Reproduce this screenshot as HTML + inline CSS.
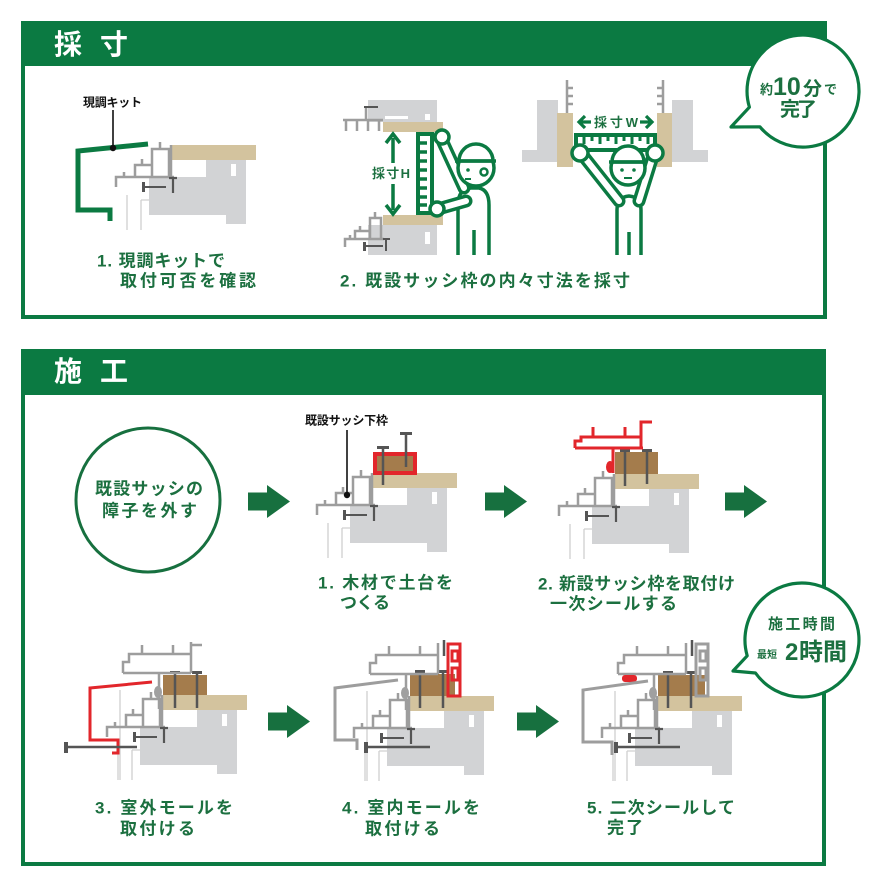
<!DOCTYPE html>
<html><head><meta charset="utf-8"><style>html,body{margin:0;padding:0;background:#fff;}svg{display:block}</style></head>
<body>
<svg width="876" height="876" viewBox="0 0 876 876" font-family="'Liberation Sans','Noto Sans CJK JP',sans-serif" font-weight="bold">
<defs>
<g id="base">
 <rect x="34" y="15" width="40" height="17" fill="#d2d3d5"/>
 <rect x="59" y="19" width="5" height="12" fill="#fff"/>
 <rect x="-23" y="32" width="97" height="38" fill="#d2d3d5"/>
 <rect x="54" y="70" width="20" height="9" fill="#d2d3d5"/>
 <path d="M-45,50 V85 M-31,55 V85 M-31,55 H-23" stroke="#d0d0d0" stroke-width="1.3" fill="none"/>
 <rect x="0" y="0" width="84" height="15" fill="#d3c39e"/>
 <g stroke="#9d9d9d" stroke-width="2.5" fill="none">
  <path d="M-20,31 V4 H-3 V31"/>
  <path d="M-12,4 V-3"/>
  <path d="M-1,0 V33"/>
  <path d="M-37,31 V20 H-20"/>
  <path d="M-30,20 V14"/>
  <path d="M-56,42 V32 H2"/>
  <path d="M-48,32 V27"/>
 </g>
 <path d="M-27,42 H-6" stroke="#555" stroke-width="2"/>
 <rect x="-30" y="37" width="3" height="10" fill="#555"/>
 <path d="M1,33 V48 M-3,33 H5" stroke="#555" stroke-width="2.2" fill="none"/>
</g>
<g id="frame" stroke="#9d9d9d" stroke-width="2.5" fill="none">
 <path d="M-40,-22 V-33 H-34 V-41 H28"/>
 <path d="M-40,-22 H28"/>
 <path d="M-21,-41 V-50 M10,-41 V-50"/>
 <path d="M28,-53 V-22"/>
 <path d="M-4,-22 V14"/>
</g>
</defs>

<!-- ============ TOP PANEL ============ -->
<rect x="23" y="23" width="802" height="294" fill="none" stroke="#0b7a42" stroke-width="4"/>
<rect x="21" y="21" width="806" height="45" fill="#0b7a42"/>
<text x="54" y="54" font-size="28" fill="#fff">採</text>
<text x="100" y="54" font-size="28" fill="#fff">寸</text>

<!-- Diagram T1 -->
<use href="#base" transform="translate(172,145)"/>
<path d="M148,144 L78,151 L78,210 L110,210 L110,221" stroke="#0b7a42" stroke-width="5" fill="none"/>
<path d="M113,110 V148" stroke="#111" stroke-width="1.6"/>
<circle cx="113" cy="148" r="3.2" fill="#111"/>
<text x="83" y="106.5" font-size="12" fill="#111" textLength="59">現調キット</text>
<text x="97" y="266.5" font-size="17" fill="#1c7040" textLength="128">1. 現調キットで</text>
<text x="120" y="286.5" font-size="17" fill="#1c7040" textLength="136">取付可否を確認</text>

<!-- Diagram T2 -->
<rect x="368" y="100" width="69" height="22" fill="#d2d3d5"/>
<rect x="368" y="225" width="69" height="30" fill="#d2d3d5"/>
<rect x="385" y="116" width="23" height="3" fill="#fff"/>
<rect x="425" y="114" width="5" height="6" fill="#fff"/>
<rect x="425" y="232" width="5" height="12" fill="#fff"/>
<rect x="383" y="122" width="60" height="10" fill="#d3c39e"/>
<rect x="383" y="215" width="60" height="10" fill="#d3c39e"/>
<path d="M343,120 H383 M346,120 V131 M357,120 V131 M368,120 V131 M379,120 V131 M366,120 V107" stroke="#9d9d9d" stroke-width="2.5" fill="none"/>
<path d="M364,107 H378" stroke="#555" stroke-width="2"/>
<path d="M370,240 V218 H381 V240 M375,218 V212 M355,240 V231 H370 M360,231 V226 M345,247 V239 H384 M350,239 V235" stroke="#9d9d9d" stroke-width="2.5" fill="none"/>
<path d="M366,246 H383 M386,239 V251 M383,239 H390" stroke="#555" stroke-width="2" fill="none"/>
<rect x="363" y="242" width="3" height="9" fill="#555"/>
<path d="M393,138 V163 M393,184 V210" stroke="#0b7a42" stroke-width="3.5"/>
<path d="M386,143 L393,134 L400,143 M386,205 L393,214 L400,205" stroke="#0b7a42" stroke-width="3.5" fill="none"/>
<text x="372" y="178" font-size="13" fill="#1c7040" textLength="38">採寸H</text>
<!-- ruler -->
<rect x="418" y="134" width="14" height="79" fill="#fff" stroke="#0b7a42" stroke-width="4"/>
<path d="M419,143 H427 M419,152 H427 M419,161 H427 M419,170 H427 M419,179 H427 M419,188 H427 M419,197 H427 M419,205 H427" stroke="#0b7a42" stroke-width="3.5"/>
<!-- person 1 -->
<path d="M458,255 V205 Q458,189 471,188 H479 Q489,190 489,205 V255" fill="#fff" stroke="#0b7a42" stroke-width="3.5"/>
<path d="M474,230 V255" stroke="#0b7a42" stroke-width="3.5"/>
<path d="M441,138 L464,188" stroke="#0b7a42" stroke-width="13" stroke-linecap="round"/>
<path d="M441,138 L464,188" stroke="#fff" stroke-width="6" stroke-linecap="round"/>
<circle cx="442" cy="137" r="7" fill="#fff" stroke="#0b7a42" stroke-width="3.5"/>
<path d="M466,201 L438,209" stroke="#0b7a42" stroke-width="13" stroke-linecap="round"/>
<path d="M466,201 L438,209" stroke="#fff" stroke-width="6" stroke-linecap="round"/>
<circle cx="437" cy="209" r="7" fill="#fff" stroke="#0b7a42" stroke-width="3.5"/>
<circle cx="476" cy="168" r="18" fill="#fff" stroke="#0b7a42" stroke-width="3.5"/>
<path d="M459,161 A17,17 0 0 1 493,161 Z" fill="#fff" stroke="#0b7a42" stroke-width="3.5"/>
<path d="M455,161 H496" stroke="#0b7a42" stroke-width="3.5"/>
<circle cx="468" cy="170" r="1.8" fill="#0b7a42"/>
<circle cx="484" cy="172" r="3.5" fill="none" stroke="#0b7a42" stroke-width="2.5"/>
<path d="M465,179 H471" stroke="#0b7a42" stroke-width="2"/>

<!-- Diagram T3 -->
<rect x="537" y="100" width="21" height="50" fill="#d2d3d5"/>
<rect x="522" y="150" width="36" height="12" fill="#d2d3d5"/>
<rect x="672" y="100" width="21" height="50" fill="#d2d3d5"/>
<rect x="672" y="150" width="36" height="12" fill="#d2d3d5"/>
<rect x="557" y="113" width="16" height="54" fill="#d3c39e"/>
<rect x="657" y="113" width="15" height="54" fill="#d3c39e"/>
<path d="M567,80 V113 M567,88 H573 M567,96 H573 M567,104 H573 M663,80 V113 M663,88 H657 M663,96 H657 M663,104 H657" stroke="#9d9d9d" stroke-width="2.5" fill="none"/>
<path d="M580,122 H591 M585,116 L579,122 L585,128 M640,122 H651 M646,116 L652,122 L646,128" stroke="#0b7a42" stroke-width="3.2" fill="none"/>
<text x="594" y="127" font-size="13" fill="#1c7040" textLength="44">採寸W</text>
<!-- person 2 -->
<path d="M617,255 V210 Q617,197 629,196 Q641,197 641,210 V255" fill="#fff" stroke="#0b7a42" stroke-width="3.5"/>
<path d="M629,232 V255" stroke="#0b7a42" stroke-width="3.5"/>
<path d="M581,153 L619,201 M654,153 L639,201" stroke="#0b7a42" stroke-width="13" stroke-linecap="round"/>
<path d="M581,153 L619,201 M654,153 L639,201" stroke="#fff" stroke-width="6" stroke-linecap="round"/>
<rect x="576" y="135" width="79" height="15" fill="#fff" stroke="#0b7a42" stroke-width="4"/>
<path d="M584,137 V144 M592,137 V141 M600,137 V144 M608,137 V141 M616,137 V144 M624,137 V141 M632,137 V144 M640,137 V141 M648,137 V144" stroke="#0b7a42" stroke-width="3"/>
<circle cx="580" cy="153" r="8" fill="#fff" stroke="#0b7a42" stroke-width="3.5"/>
<circle cx="655" cy="153" r="8" fill="#fff" stroke="#0b7a42" stroke-width="3.5"/>
<circle cx="628" cy="168" r="17" fill="#fff" stroke="#0b7a42" stroke-width="3.5"/>
<path d="M612,162 A16,16 0 0 1 644,162 Z" fill="#fff" stroke="#0b7a42" stroke-width="3.5"/>
<path d="M609,162 H647" stroke="#0b7a42" stroke-width="3.5"/>
<circle cx="622" cy="170" r="1.8" fill="#0b7a42"/>
<circle cx="634" cy="170" r="1.8" fill="#0b7a42"/>
<path d="M624,178 H632" stroke="#0b7a42" stroke-width="2"/>

<text x="340" y="286.5" font-size="17" fill="#1c7040" textLength="290">2. 既設サッシ枠の内々寸法を採寸</text>

<!-- Bubble 1 -->
<path d="M749.4,107.2 A56,56 0 1 1 759.9,126.8 L731,127 Z" fill="#fff" stroke="#0b7a42" stroke-width="3.2" stroke-linejoin="round"/>
<text x="760" y="94" font-size="13" fill="#1c7040">約</text>
<text x="773" y="95" font-size="25" fill="#1c7040">10</text>
<text x="803" y="95" font-size="19" fill="#1c7040">分</text>
<text x="824" y="94" font-size="13" fill="#1c7040">で</text>
<text x="780" y="116" font-size="20" fill="#1c7040" textLength="37">完了</text>

<!-- ============ BOTTOM PANEL ============ -->
<rect x="23" y="351" width="801" height="513" fill="none" stroke="#0b7a42" stroke-width="4"/>
<rect x="21" y="349" width="805" height="46" fill="#0b7a42"/>
<text x="54" y="381" font-size="28" fill="#fff">施</text>
<text x="100" y="381" font-size="28" fill="#fff">工</text>

<circle cx="148" cy="500" r="72" fill="none" stroke="#17703f" stroke-width="3"/>
<text x="95" y="494.5" font-size="17" fill="#1c7040" textLength="108">既設サッシの</text>
<text x="102" y="516.5" font-size="17" fill="#1c7040" textLength="95">障子を外す</text>

<!-- arrows -->
<g fill="#17703f">
 <rect x="248" y="492.5" width="21" height="18"/><path d="M267,485 L290,501.5 L267,518 Z"/>
 <rect x="485" y="492.5" width="21" height="18"/><path d="M504,485 L527,501.5 L504,518 Z"/>
 <rect x="725" y="492.5" width="21" height="18"/><path d="M744,485 L767,501.5 L744,518 Z"/>
 <rect x="268" y="712.5" width="21" height="18"/><path d="M287,705 L310,721.5 L287,738 Z"/>
 <rect x="517" y="712.5" width="21" height="18"/><path d="M536,705 L559,721.5 L536,738 Z"/>
</g>

<!-- D1 -->
<g transform="translate(373,473)">
 <use href="#base"/>
 <rect x="2" y="-19" width="40" height="19" fill="#a47c4c" stroke="#e2262b" stroke-width="4"/>
 <path d="M10,-25 V12 M33,-39 V-6" stroke="#555" stroke-width="2.5"/>
 <rect x="4" y="-27" width="12" height="3" fill="#555"/>
 <rect x="27" y="-41" width="12" height="3" fill="#555"/>
</g>
<path d="M347,430 V495" stroke="#111" stroke-width="1.6"/>
<circle cx="347" cy="495" r="3.2" fill="#111"/>
<text x="305" y="424.5" font-size="12" fill="#111" textLength="83">既設サッシ下枠</text>
<text x="318" y="588.5" font-size="17" fill="#1c7040" textLength="135">1. 木材で土台を</text>
<text x="340" y="608.5" font-size="17" fill="#1c7040" textLength="50">つくる</text>

<!-- D2 -->
<g transform="translate(615,474)">
 <use href="#base"/>
 <rect x="0" y="-22" width="43" height="22" fill="#a47c4c"/>
 <path d="M10,-23 V12 M32,-23 V10" stroke="#555" stroke-width="2.5"/>
 <rect x="5" y="-25" width="10" height="3" fill="#555"/>
 <rect x="27" y="-25" width="10" height="3" fill="#555"/>
 <g stroke="#e2262b" stroke-width="3" fill="none">
  <path d="M-40,-26 H28"/>
  <path d="M-40,-26 V-33 H-34 V-37 H26"/>
  <path d="M26,-26 V-52 H37"/>
  <path d="M-22,-47 V-37 M10,-47 V-37"/>
  <path d="M-2,-26 V-1"/>
 </g>
 <ellipse cx="-5" cy="-7" rx="4" ry="6" fill="#e2262b"/>
</g>
<text x="538" y="589.5" font-size="17" fill="#1c7040" textLength="197">2. 新設サッシ枠を取付け</text>
<text x="550" y="609.5" font-size="17" fill="#1c7040" textLength="127">一次シールする</text>

<!-- D3 -->
<g transform="translate(163,695)">
 <path d="M-43,-5 V85" stroke="#d0d0d0" stroke-width="1.3"/>
 <use href="#base"/>
 <rect x="0" y="-20" width="44" height="20" fill="#a47c4c"/>
 <path d="M12,-22 V13 M34,-22 V13" stroke="#555" stroke-width="2.5"/>
 <rect x="7" y="-24" width="10" height="3" fill="#555"/>
 <rect x="29" y="-24" width="10" height="3" fill="#555"/>
 <use href="#frame"/>
 <path d="M28,-50 H39" stroke="#9d9d9d" stroke-width="2.5"/>
 <ellipse cx="-5" cy="-3" rx="4" ry="6" fill="#a0a0a0"/>
 <path d="M-11,-13 L-73,-7 V45 H-45 V58 H-51" stroke="#e2262b" stroke-width="3" fill="none"/>
 <path d="M-96,52 H-26" stroke="#555" stroke-width="2.5"/>
 <rect x="-99" y="47" width="4" height="11" fill="#555"/>
</g>
<text x="95" y="813.5" font-size="17" fill="#1c7040" textLength="138">3. 室外モールを</text>
<text x="120" y="834.5" font-size="17" fill="#1c7040" textLength="75">取付ける</text>

<!-- D4 -->
<g transform="translate(410,696)">
 <path d="M-43,-5 V85" stroke="#d0d0d0" stroke-width="1.3"/>
 <use href="#base"/>
 <rect x="0" y="-22" width="45" height="22" fill="#a47c4c"/>
 <path d="M10,-24 V12 M33,-24 V12" stroke="#555" stroke-width="2.5"/>
 <rect x="5" y="-26" width="10" height="3" fill="#555"/>
 <rect x="28" y="-26" width="10" height="3" fill="#555"/>
 <use href="#frame"/>
 <ellipse cx="-5" cy="-3" rx="4" ry="6" fill="#a0a0a0"/>
 <g stroke="#e2262b" stroke-width="3" fill="none">
  <rect x="38" y="-52" width="12" height="52"/>
  <rect x="42" y="-45" width="6" height="10"/>
  <rect x="42" y="-28" width="6" height="12"/>
 </g>
 <path d="M34,-56 V-40" stroke="#555" stroke-width="2.5"/>
 <path d="M-12,-16 L-75,-8 V44 H-53 V54" stroke="#9d9d9d" stroke-width="3" fill="none"/>
 <path d="M-43,51 H20" stroke="#555" stroke-width="2.5"/>
 <rect x="-46" y="46" width="4" height="11" fill="#555"/>
</g>
<text x="342" y="813.5" font-size="17" fill="#1c7040" textLength="138">4. 室内モールを</text>
<text x="365" y="834.5" font-size="17" fill="#1c7040" textLength="75">取付ける</text>

<!-- D5 -->
<g transform="translate(658,696)">
 <path d="M-43,-5 V85" stroke="#d0d0d0" stroke-width="1.3"/>
 <use href="#base"/>
 <rect x="0" y="-21" width="47" height="21" fill="#a47c4c"/>
 <path d="M10,-23 V12 M33,-23 V12" stroke="#555" stroke-width="2.5"/>
 <rect x="5" y="-25" width="10" height="3" fill="#555"/>
 <rect x="28" y="-25" width="10" height="3" fill="#555"/>
 <use href="#frame"/>
 <ellipse cx="-5" cy="-3" rx="4" ry="6" fill="#a0a0a0"/>
 <g stroke="#9d9d9d" stroke-width="3" fill="none">
  <rect x="38" y="-52" width="12" height="52"/>
  <rect x="42" y="-45" width="6" height="10"/>
  <rect x="42" y="-28" width="6" height="12"/>
 </g>
 <path d="M34,-56 V-40" stroke="#555" stroke-width="2.5"/>
 <rect x="-36" y="-21" width="15" height="7" rx="3" fill="#e2262b"/>
 <path d="M-10,-15 L-75,-6 V46 H-46 V59" stroke="#9d9d9d" stroke-width="3" fill="none"/>
 <path d="M-41,51 H22" stroke="#555" stroke-width="2.5"/>
 <rect x="-44" y="46" width="4" height="11" fill="#555"/>
</g>
<text x="587" y="813.5" font-size="17" fill="#1c7040" textLength="148">5. 二次シールして</text>
<text x="607" y="833.5" font-size="17" fill="#1c7040" textLength="36">完了</text>

<!-- Bubble 2 -->
<path d="M747.2,655.8 A57,57 0 1 1 755.5,673 L733,671 Z" fill="#fff" stroke="#0b7a42" stroke-width="3.2" stroke-linejoin="round"/>
<text x="768" y="629" font-size="15" fill="#1c7040" textLength="67">施工時間</text>
<text x="757" y="658" font-size="10" fill="#1c7040">最短</text>
<text x="785" y="660" font-size="24" fill="#1c7040">2</text>
<text x="799" y="660" font-size="24" fill="#1c7040" textLength="48">時間</text>
</svg>
</body></html>
